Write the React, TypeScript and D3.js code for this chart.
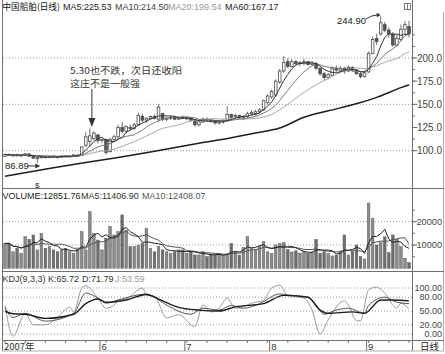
import * as d3 from 'd3';

// daily candles, 2007-04 .. 2007-09
const opens = [94, 96, 95, 95.5, 94.5, 95.5, 96.5, 94, 92, 92.5, 93.5, 93, 94, 93.5, 93, 94.5, 94, 94.5, 95, 95,
  106, 110, 113, 117, 111, 112, 99, 112, 115, 125, 121, 125, 124, 128, 137, 133, 135, 137, 134, 140,
  134, 135, 136, 134, 136, 135, 135, 133, 128, 131, 134, 133, 132, 130, 131, 132, 139, 137, 138, 136,
  137, 140, 140, 142, 144, 152, 158, 160, 174, 186, 196, 191, 196, 194, 195, 196, 193, 194, 189, 183,
  179, 181, 189, 186, 189, 186, 190, 187, 183, 180, 185, 205, 221, 226, 236, 230, 226, 214, 220, 231, 234];
const highs = [97, 97, 96.5, 97, 96, 97.5, 97, 95, 93.5, 94, 95, 94.5, 95.5, 94, 95, 95.5, 95, 96, 96.5, 104.5,
  120, 124, 121, 118, 113, 113, 114, 117, 128, 131, 127, 128, 130, 141, 140, 136, 138, 139, 150, 141,
  137, 138, 137, 137, 138, 137, 136, 134, 133, 136, 136, 134, 133, 133, 134, 148, 140, 140, 139, 138,
  142, 144, 144, 146, 155, 161, 166, 177, 188, 202, 200, 199, 198, 197, 199, 197, 197, 196, 190, 185,
  184, 191, 192, 191, 190, 192, 191, 188, 185, 186, 207, 223, 226, 244.9, 239, 233, 228, 225, 236, 240, 240];
const lows = [93.5, 94.5, 93.5, 94, 93, 94.5, 93.5, 91, 86.89, 91.5, 92, 92, 93, 92, 92.5, 93, 93, 93.5, 94, 94.5,
  104, 104, 111, 108, 108, 96, 98, 110, 113, 119, 119, 122, 122, 127, 131, 130, 133, 134, 131, 132,
  132, 133, 133, 133, 134, 133, 131, 126, 126, 130, 132, 130, 128, 128, 129, 131, 134, 135, 134, 133,
  135, 138, 138, 140, 143, 150, 156, 158, 172, 184, 189, 190, 192, 191, 192, 192, 192, 187, 181, 176,
  177, 180, 185, 184, 183, 185, 185, 182, 178, 179, 184, 204, 214, 224, 228, 222, 212, 212, 218, 226, 222];
const closes = [96, 95, 95.5, 94.5, 95.5, 96.5, 94, 92, 92.5, 93.5, 93, 94, 93.5, 93, 94.5, 94, 94.5, 95.5, 95, 104,
  115, 116, 119, 111, 112, 98, 112, 115, 125, 121, 126, 124, 128, 138, 133, 135, 137, 135, 147, 134,
  135, 136, 134, 136, 135, 135.5, 133, 128, 131, 134, 133, 132, 130, 131, 132, 139, 136, 138, 136, 137,
  140, 141, 142, 144, 154, 159, 164, 175, 186, 195, 191, 196, 194, 195, 196, 193, 195, 189, 183, 179,
  182, 189, 187, 189, 186, 190, 187, 183, 180, 184, 205, 220, 218, 238, 230, 226, 214, 221, 231, 236, 226];
const volumes = [10700, 10700, 7100, 8600, 6400, 13600, 12400, 14300, 7900, 15000, 8600, 9300, 7900, 7100, 7900, 8600, 7100, 6400, 8200, 15700,
  7900, 24300, 15000, 12100, 7900, 12900, 17900, 14300, 15700, 22900, 16400, 9300, 9300, 10000, 10700, 17200, 8600, 7100, 9300, 7900,
  7100, 6400, 7100, 7900, 7900, 6400, 7100, 5700, 5700, 7100, 5000, 5700, 5700, 6400, 5500, 6200, 10700, 7100, 5700, 9000,
  13600, 8600, 7900, 9300, 11500, 7100, 6400, 10000, 10700, 11000, 8000, 7000, 7500, 6500, 7100, 6400, 6800, 12400, 6400, 7100,
  6400, 5300, 5700, 7400, 14300, 5700, 7400, 10000, 5000, 4000, 28000, 21300, 10000, 11000, 13500, 6700, 14300, 12500, 9300, 4300, 2400];

// [day index, value]
const ma60Points: [number, number][] = [[0, 72.5], [12, 81.5], [24, 90], [36, 98.5], [48, 108], [56, 114], [62, 119],
  [68, 124.5], [74, 136], [80, 143], [86, 149.5], [92, 157.5], [98, 168], [100, 171]];
const kPoints: [number, number][] = [[0, 58], [2, 36], [5, 45], [10, 28], [17, 45], [20, 89], [23, 78], [25, 67], [28, 74],
  [35, 87], [37, 80], [40, 63], [46, 43], [49, 56], [53, 52], [56, 62], [59, 56], [63, 66], [68, 87], [70, 85], [75, 80],
  [77, 63], [79, 43], [82, 52], [85, 56], [89, 45], [90, 62], [94, 80], [97, 69], [100, 66]];
const dPoints: [number, number][] = [[0, 49], [2, 44], [5, 43], [10, 34], [17, 43], [20, 66], [23, 76], [25, 69], [30, 74],
  [35, 86], [38, 76], [43, 58], [48, 52], [53, 50], [57, 59], [64, 66], [69, 84], [75, 80], [78, 52], [80, 45], [86, 48],
  [89, 45], [93, 74], [96, 74], [100, 72]];
const jPoints: [number, number][] = [[0, 62], [2, -5], [5, 45], [7, 20], [10, 20], [13, 36], [16, 58], [17, 48], [19, 100],
  [20, 105], [23, 78], [25, 56], [27, 63], [28, 74], [30, 76], [34, 100], [35, 85], [37, 82], [40, 35], [43, 42], [47, 16],
  [49, 63], [51, 48], [53, 56], [55, 78], [57, 56], [59, 59], [61, 67], [64, 73], [66, 100], [68, 106], [70, 84], [74, 78],
  [76, 52], [78, 0], [80, 31], [84, 72], [85, 63], [87, 29], [88, 29], [90, 96], [92, 102], [94, 89], [97, 56], [98, 67], [100, 54]];

const monthStarts = [24, 45, 66, 90];
const monthLabels = ['6', '7', '8', '9'];
const priceTicks = [100, 125, 150, 175, 200];
const priceGrid = [100, 150, 200];
const volTicks = [10000, 20000];
const kdjTicks = [0, 20, 50, 80, 100];

const LAT = '"Liberation Sans", Arial, sans-serif';
const CJK = '"Noto Sans CJK SC", sans-serif';

function movingAvg(vals: number[], n: number) {
  return vals.map((_, i) => d3.mean(vals.slice(Math.max(0, i - n + 1), i + 1)) as number);
}

export default function App() {
  const x = d3.scaleLinear().domain([0, 100]).range([5, 409]);
  const yP = d3.scaleLinear().domain([100, 200]).range([150.7, 58]);
  const yV = d3.scaleLinear().domain([0, 20000]).range([268.3, 221.7]);
  const yK = d3.scaleLinear().domain([0, 100]).range([334, 288]);

  const seriesLine = (ys: d3.ScaleLinear<number, number>) =>
    d3.line<number>().x((_, i) => x(i)).y((d) => ys(d));
  const pointLine = (ys: d3.ScaleLinear<number, number>) =>
    d3.line<[number, number]>().x((d) => x(d[0])).y((d) => ys(d[1])).curve(d3.curveMonotoneX);

  const ma5 = movingAvg(closes, 5);
  const ma10 = movingAvg(closes, 10);
  const ma20 = movingAvg(closes, 20);
  const vma5 = movingAvg(volumes, 5);
  const vma10 = movingAvg(volumes, 10);

  const bodyW = 2.6;
  const grid = '#9a9a9a';
  const frame = '#707070';

  const minorPrice = d3.range(100, 237.5, 12.5);
  const minorVol = d3.range(5000, 30000, 5000);
  const dayTicks = d3.range(0, 101, 5);

  const arrowX = x(21.5);
  const peakX = x(93);

  return (
    <svg width={445} height={354} style={{ position: 'absolute', left: 0, top: 0, background: '#fff' }}>
      <defs>
        <clipPath id="clip-main"><rect x={3} y={12} width={409} height={176} /></clipPath>
        <clipPath id="clip-vol"><rect x={3} y={189} width={409} height={82} /></clipPath>
        <clipPath id="clip-kdj"><rect x={3} y={272} width={409} height={68} /></clipPath>
      </defs>

      {/* grids */}
      {priceGrid.map((v) => (
        <line key={'pg' + v} x1={3} x2={412} y1={yP(v)} y2={yP(v)} stroke={grid} strokeDasharray="1,2" />
      ))}
      {volTicks.map((v) => (
        <line key={'vg' + v} x1={3} x2={412} y1={yV(v)} y2={yV(v)} stroke={grid} strokeDasharray="1,2" />
      ))}
      {kdjTicks.map((v) => (
        <line key={'kg' + v} x1={3} x2={412} y1={yK(v)} y2={yK(v)} stroke={grid} strokeDasharray="1,2" />
      ))}

      {/* candles */}
      <g clipPath="url(#clip-main)">
        {closes.map((c, i) => {
          const o = opens[i];
          const up = c >= o;
          const top = yP(Math.max(o, c));
          const h = Math.max(1, Math.abs(yP(o) - yP(c)));
          return (
            <g key={'c' + i}>
              <line x1={x(i)} x2={x(i)} y1={yP(highs[i])} y2={yP(lows[i])} stroke="#4a4a4a" strokeWidth={0.8} />
              <rect x={x(i) - bodyW / 2} y={top} width={bodyW} height={h}
                fill={up ? '#ffffff' : '#555'} stroke="#4a4a4a" strokeWidth={0.8} />
            </g>
          );
        })}
        <path d={seriesLine(yP)(ma20) ?? ''} fill="none" stroke="#a8a8a8" strokeWidth={1} />
        <path d={seriesLine(yP)(ma10) ?? ''} fill="none" stroke="#777" strokeWidth={1} />
        <path d={seriesLine(yP)(ma5) ?? ''} fill="none" stroke="#333" strokeWidth={1} />
        <path d={pointLine(yP)(ma60Points) ?? ''} fill="none" stroke="#1e1e1e" strokeWidth={1.5} />
      </g>

      {/* volume */}
      <g clipPath="url(#clip-vol)">
        {volumes.map((v, i) => (
          <rect key={'v' + i} x={x(i) - bodyW / 2} y={yV(v)} width={bodyW} height={yV(0) - yV(v)}
            fill={closes[i] >= opens[i] ? '#8c8c8c' : '#6e6e6e'} stroke="#5a5a5a" strokeWidth={0.5} />
        ))}
        <path d={seriesLine(yV)(vma10) ?? ''} fill="none" stroke="#555" strokeWidth={1} />
        <path d={seriesLine(yV)(vma5) ?? ''} fill="none" stroke="#222" strokeWidth={1} />
      </g>

      {/* KDJ */}
      <g clipPath="url(#clip-kdj)">
        <path d={pointLine(yK)(jPoints) ?? ''} fill="none" stroke="#9a9a9a" strokeWidth={1} />
        <path d={pointLine(yK)(kPoints) ?? ''} fill="none" stroke="#555" strokeWidth={1} />
        <path d={pointLine(yK)(dPoints) ?? ''} fill="none" stroke="#1e1e1e" strokeWidth={1.4} />
      </g>

      {/* frame */}
      <line x1={2.5} x2={2.5} y1={0} y2={351} stroke={frame} />
      <line x1={412.5} x2={412.5} y1={0} y2={351} stroke={frame} />
      <line x1={443.5} x2={443.5} y1={12} y2={351} stroke="#b0b0b0" />
      {[188.5, 271.5, 340.5].map((y) => (
        <line key={'h' + y} x1={2} x2={444} y1={y} y2={y} stroke={frame} />
      ))}
      <line x1={2} x2={444} y1={351} y2={351} stroke="#b0b0b0" />

      {/* right axes */}
      <g fontFamily={LAT} fill="#444">
        {minorPrice.map((v) => (
          <line key={'mp' + v} x1={412.5} x2={415} y1={yP(v)} y2={yP(v)} stroke={frame} />
        ))}
        {priceTicks.map((v) => (
          <g key={'pt' + v}>
            <line x1={412.5} x2={417.5} y1={yP(v)} y2={yP(v)} stroke={frame} />
            <text x={442} y={yP(v) + 3.5} fontSize={10} textAnchor="end">{v.toFixed(1)}</text>
          </g>
        ))}
        {minorVol.map((v) => (
          <line key={'mv' + v} x1={412.5} x2={415} y1={yV(v)} y2={yV(v)} stroke={frame} />
        ))}
        {volTicks.map((v) => (
          <g key={'vt' + v}>
            <line x1={412.5} x2={417.5} y1={yV(v)} y2={yV(v)} stroke={frame} />
            <text x={442} y={yV(v) + 3.3} fontSize={9.2} textAnchor="end">{v}</text>
          </g>
        ))}
        {kdjTicks.map((v) => (
          <text key={'kt' + v} x={442} y={yK(v) + 3.2} fontSize={9} textAnchor="end">{v.toFixed(2)}</text>
        ))}
      </g>

      {/* titles */}
      <g fontSize={9}>
        <text x={2.5} y={9.5} fontFamily={CJK} fontSize={8.6} fill="#111">中国船舶(日线)</text>
        <text x={63} y={9.5} fontFamily={LAT} fill="#222">MA5:225.53</text>
        <text x={115} y={9.5} fontFamily={LAT} fill="#444">MA10:214.50</text>
        <text x={168} y={9.5} fontFamily={LAT} fill="#9a9a9a">MA20:199.54</text>
        <text x={225} y={9.5} fontFamily={LAT} fill="#222">MA60:167.17</text>

        <text x={2.5} y={198.5} fontFamily={LAT} fill="#222">VOLUME:12851.76</text>
        <text x={81} y={198.5} fontFamily={LAT} fill="#333">MA5:11406.90</text>
        <text x={142} y={198.5} fontFamily={LAT} fill="#555">MA10:12408.07</text>

        <text x={2.5} y={281.5} fontFamily={LAT} fill="#333">KDJ(9,3,3)</text>
        <text x={48} y={281.5} fontFamily={LAT} fill="#333">K:65.72</text>
        <text x={82} y={281.5} fontFamily={LAT} fill="#333">D:71.79</text>
        <text x={115} y={281.5} fontFamily={LAT} fill="#9a9a9a">J:53.59</text>
      </g>
      <rect x={404.5} y={3.5} width={6} height={6} fill="none" stroke="#777" />
      <line x1={407.5} x2={407.5} y1={3.5} y2={9.5} stroke="#777" />

      {/* annotations */}
      <text x={70} y={74} fontFamily={CJK} fontSize={9} fill="#333"
        textLength={112} lengthAdjust="spacingAndGlyphs">5.30也不跌，次日还收阳</text>
      <text x={70} y={86.5} fontFamily={CJK} fontSize={9} fill="#333"
        textLength={70} lengthAdjust="spacingAndGlyphs">这庄不是一般强</text>
      <line x1={arrowX} x2={arrowX} y1={89} y2={119} stroke="#333" strokeWidth={1} />
      <path d={`M${arrowX - 3.5},118 L${arrowX + 3.5},118 L${arrowX},127 Z`} fill="#333" />

      <text x={5} y={169} fontFamily={LAT} fontSize={9.5} fill="#222">86.89</text>
      <line x1={28} x2={x(8) + 1} y1={166} y2={166} stroke="#333" />
      <path d={`M${x(8) + 3},166 L${x(8) - 2},163.5 L${x(8) - 2},168.5 Z`} fill="#333" />
      <text x={x(8)} y={188} fontFamily={LAT} fontSize={8} fill="#333" textAnchor="middle">$</text>

      <text x={337} y={24} fontFamily={LAT} fontSize={9.5} fill="#222">244.90</text>
      <path d={`M${peakX - 15},19 Q${peakX - 9},15 ${peakX - 3},15`} fill="none" stroke="#333" />
      <path d={`M${peakX},15 L${peakX - 4},12.8 L${peakX - 4},17.2 Z`} fill="#333" />

      {/* date axis */}
      {dayTicks.map((d) => (
        <line key={'dt' + d} x1={x(d)} x2={x(d)} y1={340.5} y2={343} stroke={frame} />
      ))}
      {monthStarts.map((m, i) => (
        <g key={'m' + m}>
          <line x1={x(m) - 2} x2={x(m) - 2} y1={340.5} y2={351} stroke={frame} />
          <text x={x(m) - 0.5} y={349.5} fontFamily={LAT} fontSize={9.5} fill="#333">{monthLabels[i]}</text>
        </g>
      ))}
      <text x={4} y={349.5} fontFamily={CJK} fontSize={9.5} fill="#333">2007年</text>
      <text x={420} y={349.5} fontFamily={CJK} fontSize={9.5} fill="#222">日线</text>
    </svg>
  );
}
